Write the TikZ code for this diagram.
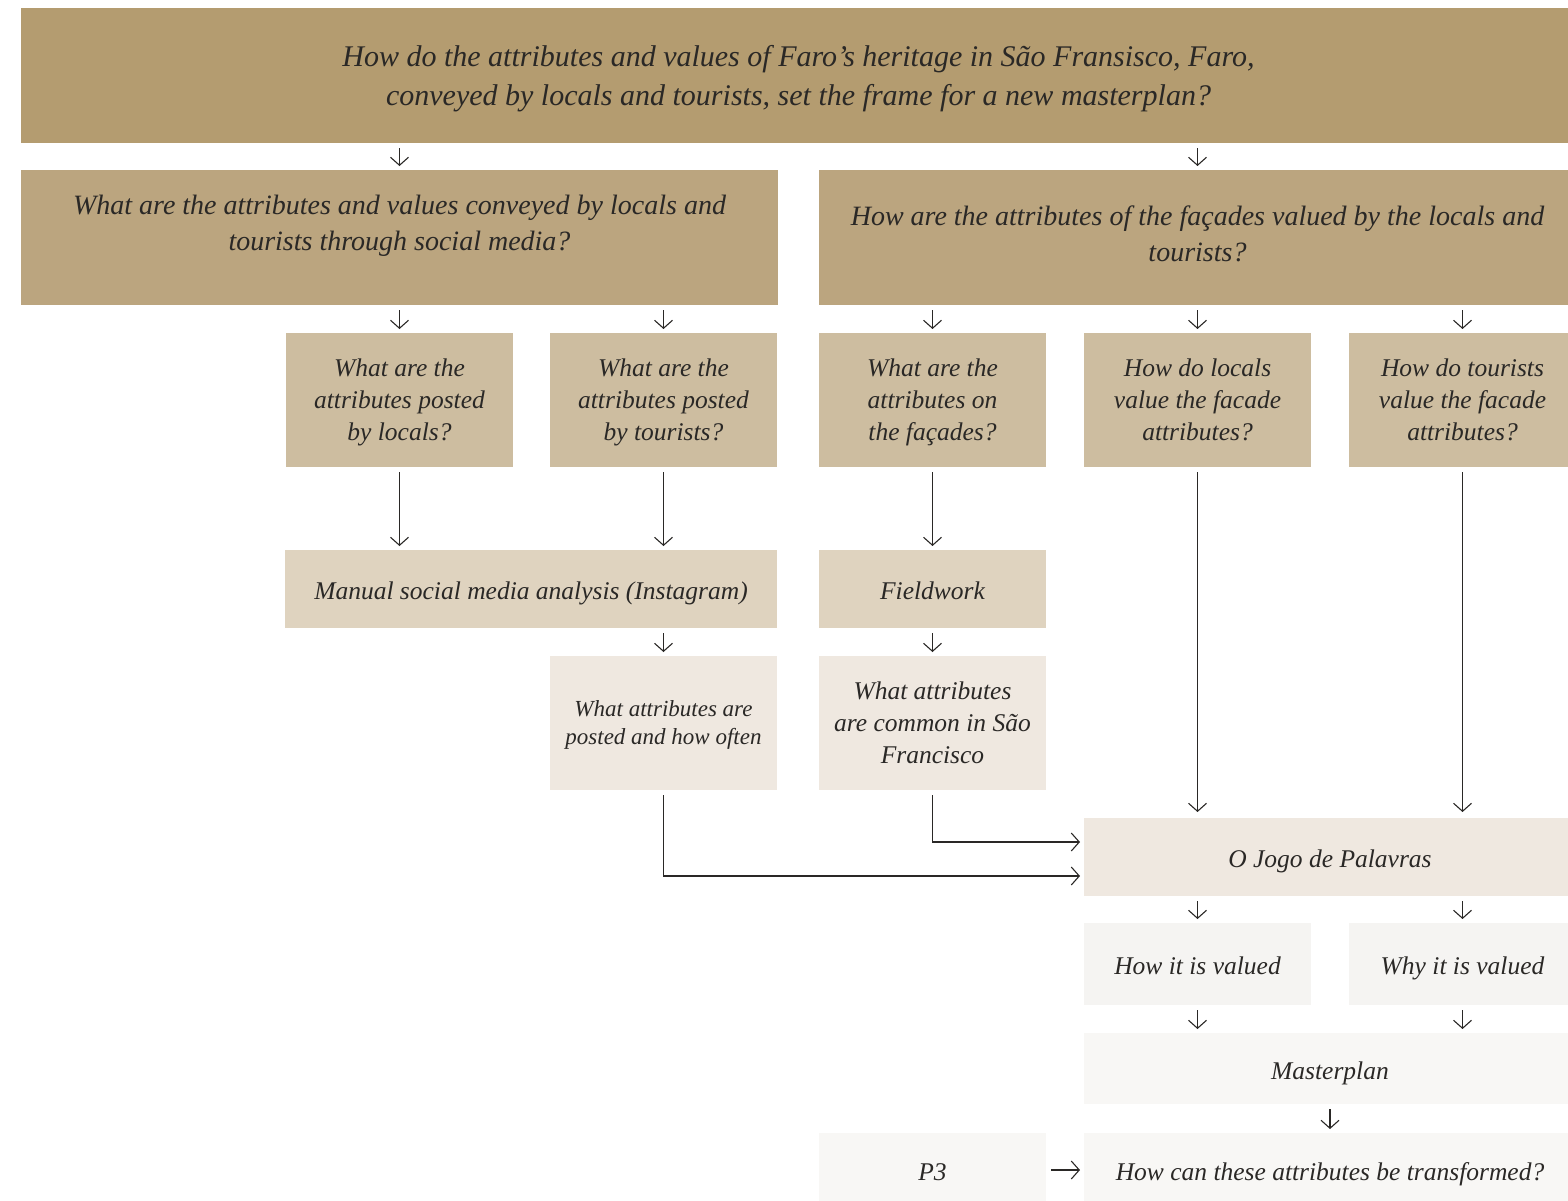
\documentclass[tikz,border=0pt]{standalone}
\usepackage{fontspec}
\setmainfont{Liberation Serif}
\usetikzlibrary{arrows.meta}
\usetikzlibrary{positioning}
\usetikzlibrary{calc}
\definecolor{tone1}{HTML}{B49C70}
\definecolor{tone2}{HTML}{BBA57F}
\definecolor{tone3}{HTML}{CDBDA0}
\definecolor{tone4}{HTML}{DFD3BF}
\definecolor{tone5}{HTML}{EFE8E0}
\definecolor{tone6}{HTML}{F5F4F2}
\definecolor{tone7}{HTML}{F8F7F5}
\definecolor{ink}{HTML}{2A2826}
\tikzset{
  box/.style = {inner sep = 0pt, outer sep = 0pt, align = center, text = ink, anchor = north west},
  oneline/.style = {text height = 21pt, text depth = 0pt},
  lvlA/.style = {box, fill = tone1, font = \itshape\fontsize{30}{39}\selectfont},
  lvlB/.style = {box, fill = tone2, font = \itshape\fontsize{28}{36}\selectfont},
  lvlC/.style = {box, fill = tone3, minimum width = 227pt, minimum height = 134pt, text depth = -7pt,
    font = \itshape\fontsize{25.5}{32}\selectfont},
  lvlD/.style = {box, oneline, fill = tone4, minimum height = 78pt, font = \itshape\fontsize{25.5}{32}\selectfont},
  lvlE/.style = {box, fill = tone5, font = \itshape\fontsize{25.5}{32}\selectfont},
  lvlF/.style = {box, oneline, fill = tone6, minimum width = 227pt, minimum height = 82pt,
    font = \itshape\fontsize{25.5}{32}\selectfont},
  lvlG/.style = {box, oneline, fill = tone7, font = \itshape\fontsize{25.5}{32}\selectfont},
  flow/.style = {draw = ink, line width = 1.1pt, -{Straight Barb[length = 8pt, width = 18pt, line width = 1.1pt]},
    shorten < = 5pt, shorten > = 4pt}
}

\begin{document}
\begin{tikzpicture}[x = 1pt, y = -1pt]
  \useasboundingbox (0,0) rectangle (1568,1200);
  % nodes
  \node [lvlA, minimum width = 1555pt, minimum height = 135pt, text depth = -7.5pt] (main) at (21,8)
    {How do the attributes and values of Faro’s heritage in São Fransisco, Faro,\\
     conveyed by locals and tourists, set the frame for a new masterplan?};
  \node [lvlB, minimum width = 757pt, minimum height = 135pt, text depth = 30pt] (qsocial) at (21,170)
    {What are the attributes and values conveyed by locals and\\ tourists through social media?};
  \node [lvlB, minimum width = 757pt, minimum height = 135pt, text depth = 8pt] (qfacade) at (819,170)
    {How are the attributes of the façades valued by the locals and\\ tourists?};

  \node [lvlC] (qlocals) at (286,333) {What are the\\ attributes posted\\ by locals?};
  \node [lvlC, right = 37pt of qlocals] (qtourists) {What are the\\ attributes posted\\ by tourists?};
  \node [lvlC, right = 42pt of qtourists] (qattr) {What are the\\ attributes on\\ the façades?};
  \node [lvlC, right = 38pt of qattr] (vlocals) {How do locals\\ value the facade\\ attributes?};
  \node [lvlC, right = 38pt of vlocals] (vtourists) {How do tourists\\ value the facade\\ attributes?};

  \node [lvlD, minimum width = 492pt] (insta) at (285,550) {Manual social media analysis (Instagram)};
  \node [lvlD, minimum width = 227pt] (field) at (819,550) {Fieldwork};

  \node [lvlE, minimum width = 227pt, minimum height = 134pt, text depth = -9pt,
    font = \itshape\fontsize{23}{28}\selectfont] (often) at (550,656)
    {What attributes are\\ posted and how often};
  \node [lvlE, minimum width = 227pt, minimum height = 134pt, text depth = -7pt] (common) at (819,656)
    {What attributes\\ are common in São\\ Francisco};

  \node [lvlE, oneline, minimum width = 492pt, minimum height = 78pt] (jogo) at (1084,818) {O Jogo de Palavras};

  \node [lvlF] (how) at (1084,923) {How it is valued};
  \node [lvlF, right = 38pt of how] (why) {Why it is valued};

  \node [lvlG, minimum width = 492pt, minimum height = 71pt] (plan) at (1084,1033) {Masterplan};

  \node [lvlG, minimum width = 227pt, minimum height = 74pt] (pthree) at (819,1133) {P3};
  \node [lvlG, minimum width = 492pt, minimum height = 74pt] (change) at (1084,1133)
    {How can these attributes be transformed?};

  % paths
  \draw [flow] (main.south -| qsocial.north) -- (qsocial.north);
  \draw [flow] (main.south -| qfacade.north) -- (qfacade.north);
  \draw [flow] (qsocial.south -| qlocals.north) -- (qlocals.north);
  \draw [flow] (qsocial.south -| qtourists.north) -- (qtourists.north);
  \draw [flow] (qfacade.south -| qattr.north) -- (qattr.north);
  \draw [flow] (qfacade.south -| vlocals.north) -- (vlocals.north);
  \draw [flow] (qfacade.south -| vtourists.north) -- (vtourists.north);

  \draw [flow] (qlocals.south) -- (qlocals.south |- insta.north);
  \draw [flow] (qtourists.south) -- (qtourists.south |- insta.north);
  \draw [flow] (qattr.south) -- (qattr.south |- field.north);
  \draw [flow, shorten > = 6pt] (vlocals.south) -- (vlocals.south |- jogo.north);
  \draw [flow, shorten > = 6pt] (vtourists.south) -- (vtourists.south |- jogo.north);

  \draw [flow] (insta.south -| often.north) -- (often.north);
  \draw [flow] (field.south) -- (common.north);
  \draw [flow] (common.south) |- ($(jogo.west) + (0,-15)$);
  \draw [flow] (often.south) |- ($(jogo.west) + (0,19)$);

  \draw [flow] (jogo.south -| how.north) -- (how.north);
  \draw [flow] (jogo.south -| why.north) -- (why.north);
  \draw [flow] (how.south) -- (how.south |- plan.north);
  \draw [flow] (why.south) -- (why.south |- plan.north);
  \draw [flow] (plan.south) -- (change.north);
  \draw [flow] (pthree.east) -- (change.west);
\end{tikzpicture}
\end{document}
